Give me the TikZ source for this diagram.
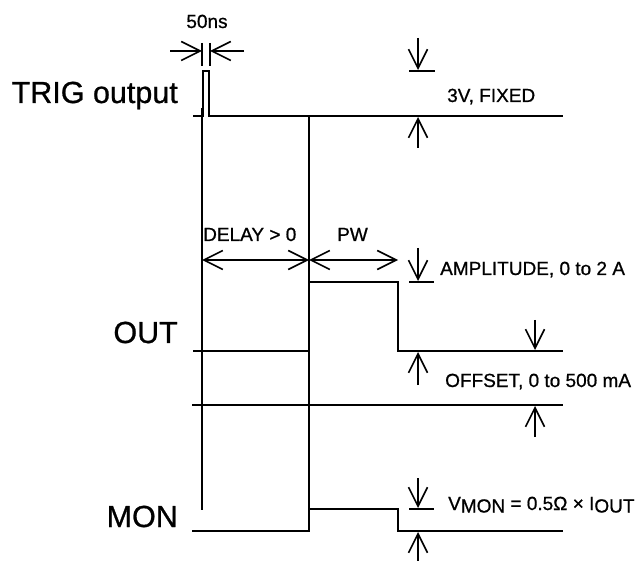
\documentclass[tikz,border=0pt]{standalone}
\usepackage{fontspec}
\setmainfont[FakeBold=0.8]{Liberation Sans}
\usetikzlibrary{arrows.meta}
\begin{document}
\begin{tikzpicture}[x=1pt,y=-1pt,
  >={Straight Barb[length=19pt,width=19pt]},
  sig/.style={line width=2.8pt, line join=miter},
  guide/.style={line width=1.5pt},
  dimline/.style={line width=1.6pt},
  lbl/.style={font=\fontsize{19}{22}\selectfont, inner sep=0pt},
  big/.style={font=\fontsize{30.5}{34}\selectfont, inner sep=0pt}]
\useasboundingbox (0,0) rectangle (640,561);

% labels
\node[big, anchor=base east] (trig) at (178,103) {TRIG output};
\node[big, anchor=base east] (out) at (178,343) {OUT};
\node[big, anchor=base east] (mon) at (178,527) {MON};
\node[lbl, anchor=base] (ns) at (207,28) {50ns};
\node[lbl, anchor=base west] (fixed) at (447,102) {3V, FIXED};
\node[lbl, anchor=base west] (delay) at (203,241) {DELAY > 0};
\node[lbl, anchor=base west] (pw) at (337,241) {PW};
\node[lbl, anchor=base west] (amp) at (440,275) {AMPLITUDE, 0 to 2 A};
\node[lbl, anchor=base west] (off) at (445,387) {OFFSET, 0 to 500 mA};
\node[lbl, anchor=base west] (vmon) at (448,510) {V\raisebox{-0.25ex}{MON} = 0.5Ω × I\raisebox{-0.25ex}{OUT}};

% signals
\draw[sig] (193,116) -- (203,116) -- (203,71) -- (209,71) -- (209,116) -- (563,116);
\draw[sig] (193,351) -- (309,351) -- (309,282) -- (398,282) -- (398,351) -- (563,351);
\draw[line width=2pt] (192,405) -- (563,405);
\draw[sig] (192,531) -- (309,531) -- (309,509) -- (398,509) -- (398,531) -- (563,531);

% guide lines
\draw[guide] (202,108) -- (202,510);
\draw[guide] (309,116) -- (309,531);
\draw[guide] (202,43) -- (202,66);
\draw[guide] (210,43) -- (210,66);

% dimension arrows
\draw[dimline,->] (170,51) -- (202,51);
\draw[dimline,->] (244,51) -- (210,51);
\draw[dimline,<->] (202,260) -- (309,260);
\draw[dimline,<->] (309,260) -- (398,260);

\draw[dimline,->] (418,38) -- (418,70);
\draw[dimline] (409,71) -- (435,71);
\draw[dimline,->] (418,148) -- (418,117);

\draw[dimline,->] (418,248) -- (418,281);
\draw[dimline] (409,282) -- (434,282);
\draw[dimline,->] (418,385) -- (418,352);

\draw[dimline,->] (535,320) -- (535,350);
\draw[dimline,->] (535,437) -- (535,406);

\draw[dimline,->] (418,478) -- (418,508);
\draw[dimline] (409,509) -- (434,509);
\draw[dimline,->] (418,561) -- (418,532);
\end{tikzpicture}
\end{document}
